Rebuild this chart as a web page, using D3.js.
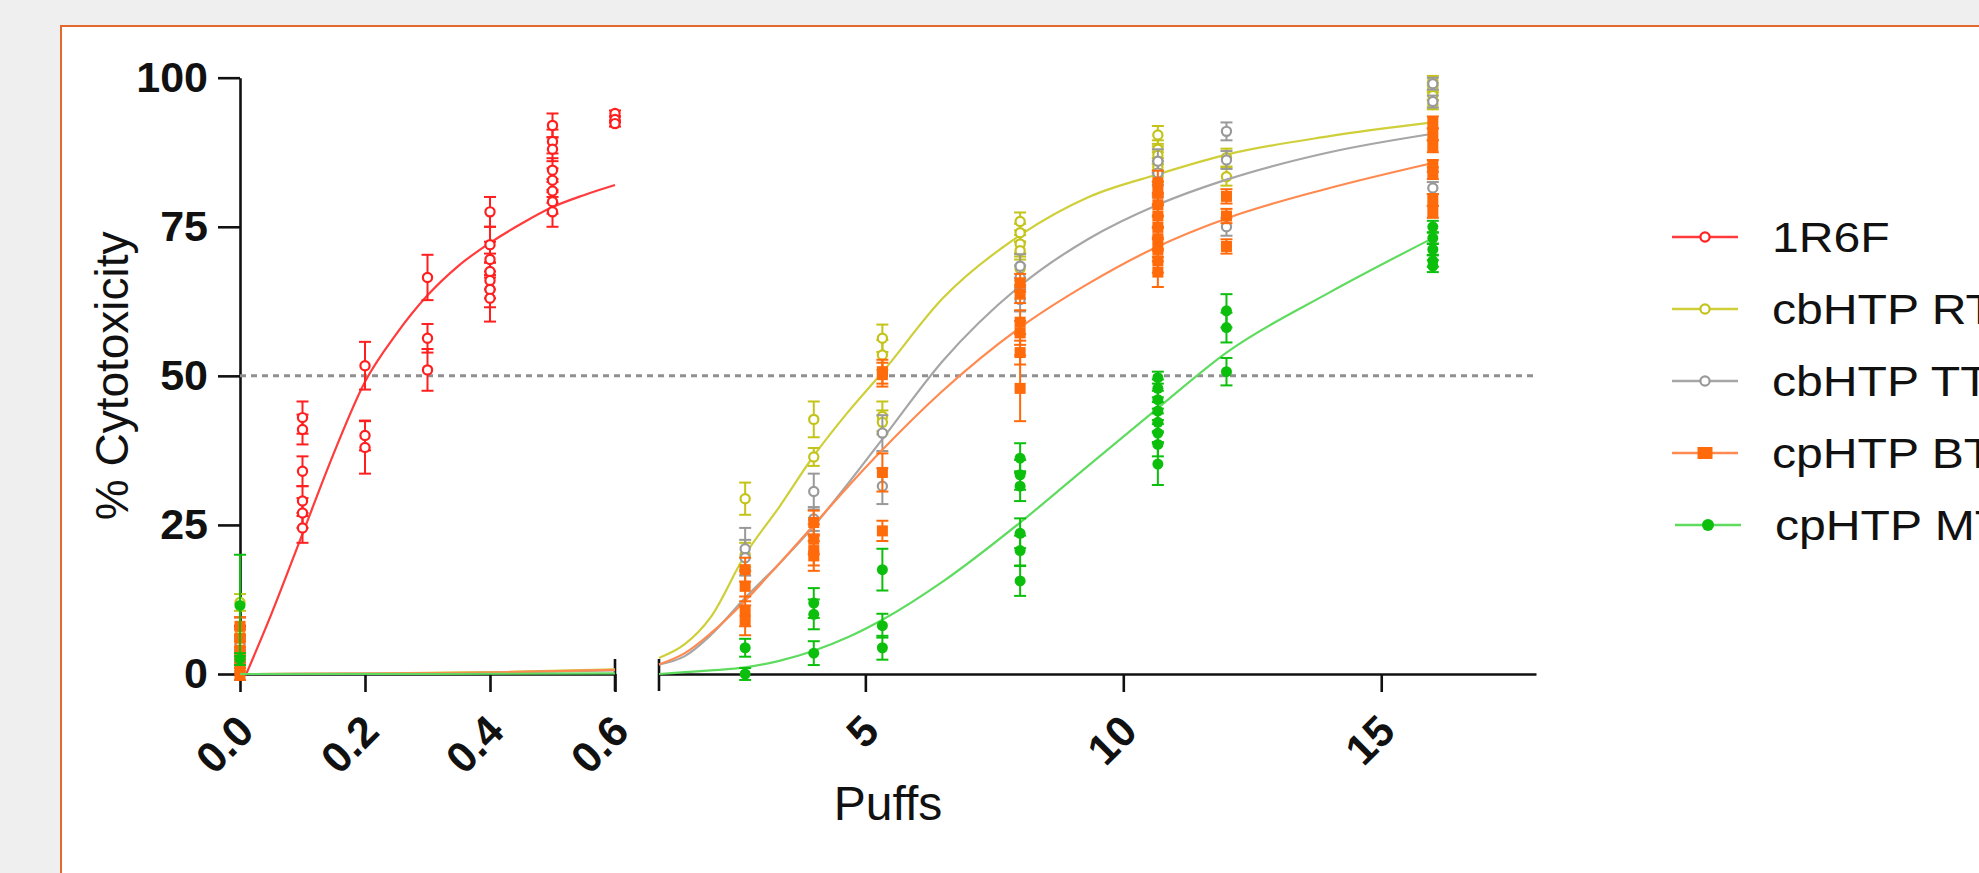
<!DOCTYPE html>
<html><head><meta charset="utf-8">
<script src="https://cdn.jsdelivr.net/npm/d3@7"></script>
<style>html,body{margin:0;padding:0;background:#efefef;overflow:hidden}</style>
</head><body>
<svg id="c" width="1979" height="873"></svg>
<script>
// ---------- data ----------
const seriesNames = ["1R6F", "cbHTP RT", "cbHTP TT", "cpHTP BT", "cpHTP MT"];
const yTicks = [0, 25, 50, 75, 100];
const xTicksLeft = [0, 0.2, 0.4, 0.6];
const xTicksRight = [5, 10, 15];
const thresholdLine = 50;

// points: [puffs, % cytotoxicity, error]
const pts1R6F = [
  [0,0,1],[0,2,1.5],[0,4,2],[0,6,2],[0,8,1.5],
  [0.1,43,2.7],[0.1,41,2.5],[0.1,34,2.5],[0.1,29,2.5],[0.1,27,2.5],[0.1,24.5,2.5],
  [0.2,51.7,4],[0.2,40,2.5],[0.2,38,4.4],
  [0.3,66.5,3.8],[0.3,56.3,2.4],[0.3,51,3.5],
  [0.4,77.5,2.5],[0.4,72,3],[0.4,69.5,3],[0.4,67.5,3],[0.4,66,3],[0.4,64.5,3],[0.4,63,3.9],
  [0.5,92,2],[0.5,89.3,2],[0.5,88,2],[0.5,84.5,2],[0.5,82.8,2],[0.5,81,2],[0.5,79.2,2],[0.5,77.5,2.5],
  [0.6,94,0.5],[0.6,93,0.5],[0.6,92.3,0.5]
];
const ptsRT = [
  [0,6.5,1],[0,1.5,1],[0,12,1.4],
  [2.67,29.4,2.7],[2.67,20,2],
  [4,42.7,3],[4,36.4,1.5],
  [5.33,56.3,2.3],[5.33,53.5,2.5],[5.33,43.2,2.5],[5.33,42.2,2],
  [8,75.9,1.5],[8,74,1.5],[8,72.1,1.5],[8,71,1.5],[8,68,2],
  [10.67,90.4,1.5],[10.67,88,1.5],[10.67,87,1.5],[10.67,86,1.5],[10.67,85,1.5],[10.67,84,1.5],
  [12,86.6,1.5],[12,83.4,1.5],
  [16,99.5,0.8],[16,98.3,0.8],[16,97,0.8],[16,95.5,0.8]
];
const ptsTT = [
  [0,3,1],[0,5,1],
  [2.67,21,3.5],[2.67,19.5,3],
  [4,30.6,3],[4,26,2],
  [5.33,40.4,3],[5.33,31.5,3],
  [8,68.4,2],[8,66.5,2],[8,62.8,2],
  [10.67,86,2],[10.67,84,2],[10.67,82,2],
  [12,91,1.5],[12,86.2,1.5],[12,75,1.5],
  [16,99,1],[16,96,1],[16,81.5,1]
];
const ptsBT = [
  [0,0,1],[0,2,1],[0,4,1.5],[0,6,1.5],[0,8,1.5],
  [2.67,17.5,2],[2.67,14.7,2.5],[2.67,10.5,2.5],[2.67,9,2.5],
  [4,25.4,2],[4,22.6,2.5],[4,20.7,2.5],[4,19.8,2.5],
  [5.33,50.7,2],[5.33,50.2,2],[5.33,33.8,3.2],[5.33,24,1.7],
  [8,65.6,1.5],[8,63.7,1.5],[8,59,2],[8,57.2,2],[8,53.9,2],[8,47.9,5.5],
  [10.67,82.4,2],[10.67,80.6,2],[10.67,78.7,2],[10.67,76.8,2],[10.67,74.9,2],[10.67,73,2],[10.67,71.2,2],[10.67,69.3,2],[10.67,67.4,2.5],
  [12,80.1,1.2],[12,76.8,1.2],[12,71.7,1.2],
  [16,92.5,1],[16,90.5,1],[16,88.5,1],[16,85.2,1],[16,84,1],[16,79.5,1],[16,77.5,1]
];
const ptsMT = [
  [0,11.5,8.5],[0,2.5,1],
  [2.67,4.4,1.5],[2.67,0,1],
  [4,11.9,2.5],[4,10,2.5],[4,3.5,2],
  [5.33,17.5,3.5],[5.33,8.1,2],[5.33,4.4,2],
  [8,36.2,2.5],[8,33.4,2.5],[8,31.5,2.5],[8,23.6,2.5],[8,20.7,2.5],[8,15.6,2.5],
  [10.67,49.7,1],[10.67,47.9,1.5],[10.67,46,1.5],[10.67,44.1,1.5],[10.67,42.2,1.5],[10.67,40.4,1.5],[10.67,38.5,2],[10.67,35.2,3.5],
  [12,60.9,2.8],[12,58.1,2.5],[12,50.7,2.3],
  [16,75,1],[16,73.1,1],[16,71.2,1],[16,69.3,1],[16,68.4,1]
];

// fitted curves: [puffs, %]
const fit1R6F = [[0.01,0],[0.05,10],[0.1,23.5],[0.15,37],[0.2,49],[0.25,57],[0.3,63.5],[0.35,68.5],[0.4,72.3],[0.45,75.5],[0.5,78.3],[0.55,80.3],[0.6,82]];
const fitRT_left = [[0,0],[0.2,0.05],[0.4,0.3],[0.6,0.8]];
const fitTT_left = [[0,0],[0.2,0.05],[0.4,0.2],[0.6,0.6]];
const fitBT_left = [[0,0],[0.2,0.05],[0.4,0.25],[0.6,0.7]];
const fitMT_left = [[0,0],[0.3,0],[0.6,0.1]];
const fitRT = [[1,2.7],[1.5,5],[2,9.5],[2.67,20],[3.33,28],[4,36.6],[4.67,44],[5.33,50.6],[6.5,63],[8,73.6],[9.33,80],[10.67,83.8],[12,87.1],[14,90.2],[16,92.5]];
const fitTT = [[1,1.6],[1.5,3],[2,6.5],[2.67,12.8],[3.33,18.5],[4,24.8],[4.67,32],[5.33,39.4],[6.5,52.5],[8,65.1],[9.33,73],[10.67,78.7],[12,82.9],[14,87.5],[16,90.6]];
const fitBT = [[1,1.6],[1.5,3.5],[2,6.8],[2.67,12.3],[3.33,18.5],[4,25],[4.67,31.5],[5.33,37.6],[6.5,47.5],[8,58.1],[9.33,65.5],[10.67,71.7],[12,76.4],[14,81.5],[16,85.7]];
const fitMT = [[1,0],[1.5,0.3],[2,0.6],[2.67,1.1],[3.33,2.2],[4,3.9],[4.67,6.2],[5.33,9.1],[6.5,15.5],[8,25.4],[9.33,35],[10.67,44.6],[12,53.9],[14,64],[16,73.1]];

// ---------- setup ----------
const FONT = "'Liberation Sans', Arial, Helvetica, sans-serif";
const svg = d3.select("#c");
svg.append("rect").attr("width",1979).attr("height",873).attr("fill","#efefef");
svg.append("rect").attr("x",61).attr("y",26).attr("width",2000).attr("height",1000)
  .attr("fill","#ffffff").attr("stroke","#e4682e").attr("stroke-width",2);

const xL = d3.scaleLinear().domain([0,0.6]).range([240,615]);
const xR = d3.scaleLinear().domain([1,18]).range([659,1536]);
const y = d3.scaleLinear().domain([0,100]).range([674,77.7]);
const xm = v => v <= 0.6 ? xL(v) : xR(v);

const series = [
  {name:seriesNames[0], pts:pts1R6F, fits:[fit1R6F], color:"#ff1f1f", line:"#ff3b3b", shape:"open"},
  {name:seriesNames[1], pts:ptsRT, fits:[fitRT_left, fitRT], color:"#c3c31a", line:"#cfcf3a", shape:"open"},
  {name:seriesNames[2], pts:ptsTT, fits:[fitTT_left, fitTT], color:"#999999", line:"#a6a6a6", shape:"open"},
  {name:seriesNames[3], pts:ptsBT, fits:[fitBT_left, fitBT], color:"#ff6a0a", line:"#ff8a50", shape:"square"},
  {name:seriesNames[4], pts:ptsMT, fits:[fitMT_left, fitMT], color:"#0cbf0c", line:"#5fdc5f", shape:"dot"}
];

// ---------- axes ----------
const axisColor = "#111";
function styleAxis(g){
  g.selectAll("path,line").attr("stroke",axisColor).attr("stroke-width",2.6);
  g.selectAll("text").attr("fill","#111").attr("font-family",FONT).attr("font-weight","bold").attr("font-size",43);
}
const gy = svg.append("g").attr("transform","translate(240,0)")
  .call(d3.axisLeft(y).tickValues(yTicks).tickSize(22).tickSizeOuter(0).tickPadding(10).tickFormat(d3.format("d")));
styleAxis(gy);

const gxl = svg.append("g").attr("transform","translate(0,674)")
  .call(d3.axisBottom(xL).tickValues(xTicksLeft).tickSize(18).tickSizeOuter(0).tickFormat(d3.format(".1f")));
styleAxis(gxl);
const gxr = svg.append("g").attr("transform","translate(0,674)")
  .call(d3.axisBottom(xR).tickValues(xTicksRight).tickSize(18).tickSizeOuter(0).tickFormat(d3.format("d")));
styleAxis(gxr);
[gxl,gxr].forEach(g=>{
  g.selectAll(".tick text").attr("x",0).attr("y",0).attr("dy","0.35em")
    .attr("text-anchor","end").attr("transform","translate(5,49) rotate(-45)");
});
// break marks at the ends of the two segments
[xL(0.6), xR(1)].forEach(xx=>{
  svg.append("line").attr("x1",xx).attr("x2",xx).attr("y1",659).attr("y2",691)
    .attr("stroke",axisColor).attr("stroke-width",2.6);
});

// axis titles
svg.append("text").attr("transform",`translate(112,${(y(0)+y(100))/2}) rotate(-90)`)
  .attr("text-anchor","middle").attr("dy","0.35em")
  .attr("font-family",FONT).attr("font-size",46).attr("fill","#111").text("% Cytotoxicity");
svg.append("text").attr("x",(240+1536)/2).attr("y",803).attr("dy","0.35em")
  .attr("text-anchor","middle").attr("font-family",FONT).attr("font-size",48).attr("fill","#111").text("Puffs");

// 50% reference
svg.append("line").attr("x1",240).attr("x2",1536).attr("y1",y(thresholdLine)).attr("y2",y(thresholdLine))
  .attr("stroke","#909090").attr("stroke-width",3).attr("stroke-dasharray","6,5");

// ---------- series ----------
const lineGen = d3.line().x(d=>xm(d[0])).y(d=>y(d[1])).curve(d3.curveMonotoneX);
function drawMarker(g, s, cx, cy, legend){
  if(s.shape==="open"){
    g.append("circle").attr("cx",cx).attr("cy",cy).attr("r",4.6)
      .attr("fill","#fff").attr("stroke",s.color).attr("stroke-width",2.2);
  } else if(s.shape==="square"){
    const w = legend?15:11, h = legend?12:11;
    g.append("rect").attr("x",cx-w/2).attr("y",cy-h/2).attr("width",w).attr("height",h).attr("fill",s.color);
  } else {
    g.append("circle").attr("cx",cx).attr("cy",cy).attr("r",legend?6:5.5).attr("fill",s.color);
  }
}
series.forEach(s=>{
  const g = svg.append("g");
  s.fits.forEach(f=>{
    g.append("path").attr("d",lineGen(f)).attr("fill","none").attr("stroke",s.line).attr("stroke-width",2.2);
  });
  s.pts.forEach(p=>{
    const cx = xm(p[0]);
    const y1 = y(p[1]-p[2]), y2 = y(p[1]+p[2]);
    g.append("line").attr("x1",cx).attr("x2",cx).attr("y1",y1).attr("y2",y2).attr("stroke",s.color).attr("stroke-width",2);
    [y1,y2].forEach(yy=>g.append("line").attr("x1",cx-6).attr("x2",cx+6).attr("y1",yy).attr("y2",yy).attr("stroke",s.color).attr("stroke-width",2));
  });
  s.pts.forEach(p=>drawMarker(g, s, xm(p[0]), y(p[1]), false));
});

// ---------- legend ----------
const legY0 = 237, legDy = 72;
series.forEach((s,i)=>{
  const g = svg.append("g");
  const yy = legY0 + i*legDy;
  const off = i===4 ? 3 : 0;
  g.append("line").attr("x1",1672+off).attr("x2",1738+off).attr("y1",yy).attr("y2",yy)
    .attr("stroke",s.line).attr("stroke-width",2.5);
  drawMarker(g, s, 1705+off, yy, true);
  g.append("text").attr("transform",`translate(${1772+off},${yy}) scale(1.12,1)`).attr("dy","0.35em")
    .attr("font-family",FONT).attr("font-size",43).attr("fill","#111").text(s.name);
});
</script></body></html>
